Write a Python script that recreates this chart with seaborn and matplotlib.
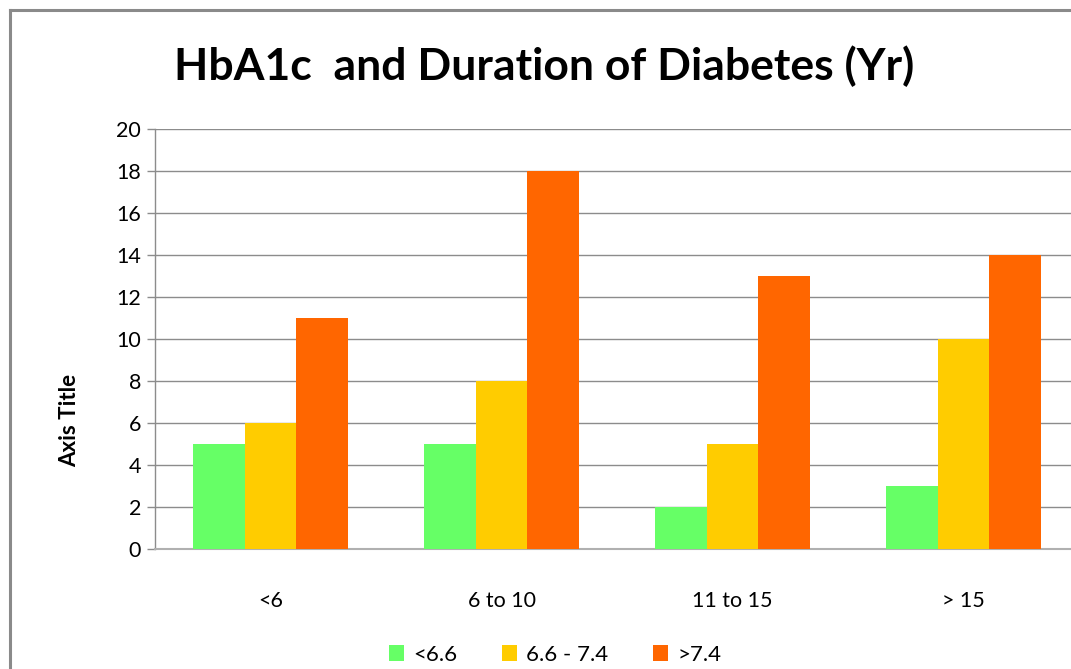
import matplotlib
matplotlib.use("Agg")
import matplotlib.pyplot as plt
import seaborn as sns
import pandas as pd
from matplotlib.lines import Line2D

categories = ["<6", "6 to 10", "11 to 15", "> 15"]
series_names = ["<6.6", "6.6 - 7.4", ">7.4"]
low = [5, 5, 2, 3]
mid = [6, 8, 5, 10]
high = [11, 18, 13, 14]
y_ticks = [0, 2, 4, 6, 8, 10, 12, 14, 16, 18, 20]
title = "HbA1c  and Duration of Diabetes (Yr)"
y_label = "Axis Title"
colors = ["#66FF66", "#FFCC00", "#FF6600"]

rows = []
for name, vals in zip(series_names, [low, mid, high]):
    for c, v in zip(categories, vals):
        rows.append({"cat": c, "series": name, "value": v})
df = pd.DataFrame(rows)

sns.set_theme(style="white")
plt.rcParams["font.family"] = ["Lato", "DejaVu Sans"]
plt.rcParams["text.color"] = "black"

W, H = 1071, 669
fig = plt.figure(figsize=(W / 100, H / 100), dpi=100)
ax = fig.add_axes([155 / W, (H - 549) / H, 924 / W, 420 / H])

sns.barplot(data=df, x="cat", y="value", hue="series", order=categories,
            hue_order=series_names, palette=colors, width=0.67, saturation=1,
            ax=ax, legend=True, zorder=3, linewidth=0, edgecolor="none")

ax.set_xlim(-0.5, 3.5)
ax.set_ylim(0, 20)
ax.set_yticks(y_ticks)
ax.yaxis.grid(True, color="#8c8c8c", linewidth=1, zorder=0)
ax.set_axisbelow(True)
for s in ["top", "right"]:
    ax.spines[s].set_visible(False)
ax.spines["left"].set_color("#8c8c8c")
ax.spines["left"].set_linewidth(1)
ax.spines["bottom"].set_color("#b0b0b0")
ax.spines["bottom"].set_linewidth(1.5)
ax.tick_params(axis="y", left=True, length=6, width=1, color="#8c8c8c",
               labelsize=15.5, pad=4, labelcolor="black")
ax.tick_params(axis="x", bottom=False, length=0, labelsize=15.5, pad=30,
               labelcolor="black")
ax.set_xlabel("")
ax.set_ylabel("")

handles, labels = ax.get_legend_handles_labels()
ax.get_legend().remove()
leg = fig.legend(handles, labels, loc="center", bbox_to_anchor=(555 / W, 14 / H),
                 ncol=3, frameon=False, fontsize=16, handlelength=0.7,
                 handleheight=0.7, handletextpad=0.4, columnspacing=2.0)
for t in leg.get_texts():
    t.set_color("black")

fig.text(544 / W, (H - 66) / H, title, ha="center", va="center",
         fontsize=32, fontweight="bold", color="black")
fig.text(70 / W, (H - 420) / H, y_label, ha="center", va="center",
         rotation=90, fontsize=16, fontweight="bold", color="black")

fig.add_artist(Line2D([10 / W, 10 / W], [0, (H - 10) / H], transform=fig.transFigure,
                      color="#8a8a8a", linewidth=2.2, solid_capstyle="projecting"))
fig.add_artist(Line2D([10 / W, 1.0], [(H - 10) / H, (H - 10) / H], transform=fig.transFigure,
                      color="#8a8a8a", linewidth=2.2, solid_capstyle="projecting"))

fig.savefig("out.png", dpi=100)
